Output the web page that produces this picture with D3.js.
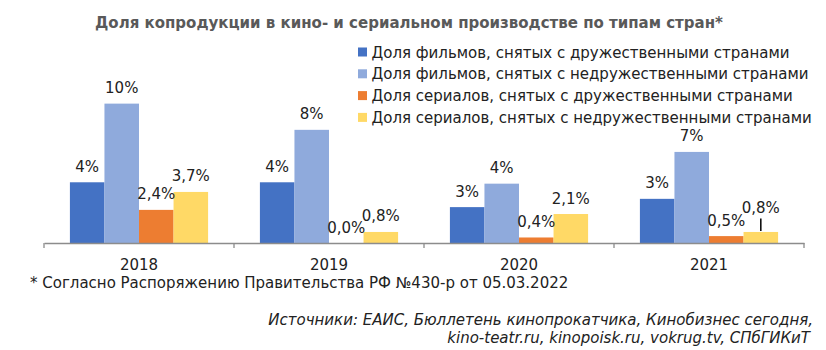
<!DOCTYPE html>
<html>
<head>
<meta charset="utf-8">
<script src="https://cdn.jsdelivr.net/npm/d3@7"></script>
<style>
  html, body { margin: 0; padding: 0; background: #fff; }
  svg { display: block; }
</style>
</head>
<body>
<svg id="chart" width="826" height="350"></svg>
<script>
// Years on the category axis
const years = ["2018", "2019", "2020", "2021"];

// Shares, in percent
const filmsFriendly   = [4.4, 4.4, 2.6, 3.2];
const filmsUnfriendly = [10.1, 8.2, 4.3, 6.6];
const seriesFriendly  = [2.4, 0.0, 0.4, 0.5];
const seriesUnfriendly = [3.7, 0.8, 2.1, 0.8];

const seriesNames = [
  "Доля фильмов, снятых с дружественными странами",
  "Доля фильмов, снятых с недружественными странами",
  "Доля сериалов, снятых с дружественными странами",
  "Доля сериалов, снятых с недружественными странами"
];
const seriesValues = [filmsFriendly, filmsUnfriendly, seriesFriendly, seriesUnfriendly];
// Film shares are labelled as whole percents, series shares with one decimal
const seriesDecimals = [0, 0, 1, 1];
const colors = ["#4472C4", "#8FAADC", "#ED7D31", "#FFD966"];

const titleText = "Доля копродукции в кино- и сериальном производстве по типам стран*";
const noteText = "* Согласно Распоряжению Правительства РФ №430-р от 05.03.2022";
const sourceLines = [
  "Источники: ЕАИС, Бюллетень кинопрокатчика, Кинобизнес сегодня,",
  "kino-teatr.ru, kinopoisk.ru, vokrug.tv, СПбГИКиТ"
];

const svg = d3.select("#chart");
const FONT = "'DejaVu Sans', Verdana, sans-serif";

const axisY = 243;
const x0 = d3.scaleBand().domain(years).range([44, 804]).padding(0);
const barW = x0.bandwidth() / 5.5;              // gap width 150% of a bar
const x1 = d3.scaleBand().domain(d3.range(4))
  .range([barW * 0.75, x0.bandwidth() - barW * 0.75]).padding(0);
const y = d3.scaleLinear().domain([0, 12]).range([axisY, axisY - 12 * 13.8]);

// Title
svg.append("text")
  .attr("x", 95).attr("y", 27.5)
  .attr("font-family", FONT)
  .attr("font-weight", "bold")
  .attr("font-size", 15)
  .attr("fill", "#595959")
  .text(titleText);

// Bars
const rows = [];
years.forEach((yr, i) => {
  seriesValues.forEach((vals, s) => rows.push({ year: yr, s, v: vals[i] }));
});

const g = svg.append("g");
g.selectAll("rect.bar").data(rows).join("rect")
  .attr("class", "bar")
  .attr("x", d => x0(d.year) + x1(d.s))
  .attr("width", x1.bandwidth())
  .attr("y", d => y(d.v))
  .attr("height", d => y(0) - y(d.v))
  .attr("fill", d => colors[d.s]);

// Category axis
const axis = d3.axisBottom(x0).tickSize(0).tickFormat(d => d);
const axG = svg.append("g").attr("transform", `translate(0,${axisY})`).call(axis);
axG.select(".domain").attr("stroke", "#8c8c8c").attr("stroke-width", 1.3);
axG.selectAll(".tick text")
  .attr("dy", 0).attr("y", 26.5)
  .attr("font-family", FONT).attr("font-size", 15).attr("fill", "#222");
// Boundary ticks between categories
const bounds = years.map(d => x0(d)).concat([x0.range()[1]]);
axG.selectAll("line.bound").data(bounds).join("line")
  .attr("class", "bound")
  .attr("x1", d => d).attr("x2", d => d)
  .attr("y1", 0).attr("y2", 5)
  .attr("stroke", "#8c8c8c").attr("stroke-width", 1.3);

// Value labels; the small 2021 series label is lifted and tied back with a leader
const fmt = (v, dec) => v.toFixed(dec).replace(".", ",") + "%";
const lifted = d => d.year === "2021" && d.s === 3;
g.selectAll("text.val").data(rows).join("text")
  .attr("class", "val")
  .attr("x", d => x0(d.year) + x1(d.s) + x1.bandwidth() / 2)
  .attr("y", d => y(d.v) - 10.5 - (lifted(d) ? 8 : 0))
  .attr("text-anchor", "middle")
  .attr("font-family", FONT).attr("font-size", 15).attr("fill", "#222")
  .text(d => fmt(d.v, seriesDecimals[d.s]));

rows.filter(lifted).forEach(d => {
  const cx = x0(d.year) + x1(d.s) + x1.bandwidth() / 2;
  g.append("line")
    .attr("x1", cx).attr("x2", cx)
    .attr("y1", y(d.v) - 13.5).attr("y2", y(d.v) - 1)
    .attr("stroke", "#000").attr("stroke-width", 1.5);
});

// Legend
const lg = svg.append("g").attr("transform", "translate(358,52)");
const item = lg.selectAll("g").data(seriesNames).join("g")
  .attr("transform", (d, i) => `translate(0,${i * 21.8})`);
item.append("rect")
  .attr("x", 0).attr("y", -4.5).attr("width", 9).attr("height", 9)
  .attr("fill", (d, i) => colors[i]);
item.append("text")
  .attr("x", 13.5).attr("y", 5.5)
  .attr("font-family", FONT).attr("font-size", 15).attr("fill", "#222")
  .text(d => d);

// Footnote
svg.append("text")
  .attr("x", 30).attr("y", 287.5)
  .attr("font-family", FONT).attr("font-size", 15).attr("fill", "#222")
  .text(noteText);

// Sources
svg.append("g").selectAll("text").data(sourceLines).join("text")
  .attr("x", (d, i) => i === 0 ? 813 : 810)
  .attr("y", (d, i) => 325 + i * 18)
  .attr("text-anchor", "end")
  .attr("font-family", FONT).attr("font-style", "italic")
  .attr("font-size", 15).attr("fill", "#222")
  .text(d => d);
</script>
</body>
</html>
